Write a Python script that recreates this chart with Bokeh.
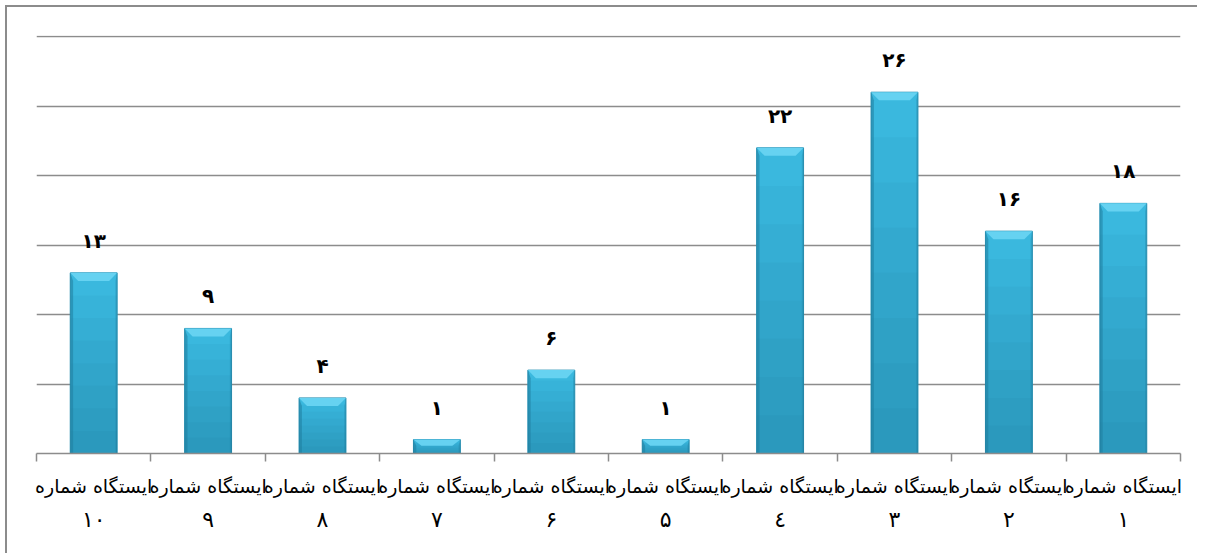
from bokeh.plotting import figure
from bokeh.models import Range1d, LinearAxis, FixedTicker, Grid, ColumnDataSource
from bokeh.core.properties import value
from bokeh.embed import file_html
from bokeh.resources import INLINE

# ---- data ----
station_word = "ایستگاه شماره"
station_numbers = ["۱", "۲", "۳", "٤", "۵", "۶", "۷", "۸", "۹", "۱۰"]
counts = [18, 16, 26, 22, 1, 6, 1, 4, 9, 13]
count_labels = ["۱۸", "۱۶", "۲۶", "۲۲", "۱", "۶", "۱", "۴", "۹", "۱۳"]
grid_ticks = [5, 10, 15, 20, 25, 30]
y_max = 30

# ---- styling constants ----
FONT = "DejaVu Sans"
GRAY = "#8c8c8c"
BAR_W = 0.41
BEVEL_X = 0.07
BEVEL_Y = 0.58

n = len(counts)
xs = [i + 0.5 for i in range(n)]
edges = list(range(n + 1))

p = figure(width=1192, height=548,
           x_range=Range1d(n, 0), y_range=Range1d(0, y_max + 0.08),
           x_axis_type=None, y_axis_type=None,
           toolbar_location=None, output_backend="svg",
           min_border_left=29, min_border_right=19,
           min_border_top=28, min_border_bottom=102,
           outline_line_color=None)
p.styles = {"border-left": "2px solid #8c8c8c", "border-top": "2px solid #8c8c8c",
            "margin-left": "5px", "margin-top": "5px"}

p.add_layout(Grid(dimension=1, ticker=FixedTicker(ticks=grid_ticks),
                  grid_line_color=GRAY, grid_line_width=1.5))

ax1 = LinearAxis(ticker=FixedTicker(ticks=xs, minor_ticks=edges),
                 major_label_overrides={x: station_word for x in xs},
                 axis_line_color=GRAY, axis_line_width=1.5,
                 major_tick_line_color=None, major_tick_out=0, major_tick_in=0,
                 minor_tick_line_color=GRAY, minor_tick_line_width=1.5,
                 minor_tick_out=8, minor_tick_in=0,
                 major_label_text_font=FONT, major_label_text_font_size="19px",
                 major_label_text_color="black", major_label_standoff=13)
ax2 = LinearAxis(ticker=FixedTicker(ticks=xs, minor_ticks=[]),
                 major_label_overrides={x: s for x, s in zip(xs, station_numbers)},
                 axis_line_color=None,
                 major_tick_line_color=None, major_tick_out=0, major_tick_in=0,
                 minor_tick_line_color=None, minor_tick_out=0, minor_tick_in=0,
                 major_label_text_font=FONT, major_label_text_font_size="22px",
                 major_label_text_color="black", major_label_standoff=7)
p.add_layout(ax1, "below")
p.add_layout(ax2, "below")

src = ColumnDataSource(dict(x=xs, top=counts, label=count_labels))

# main bar body
p.vbar(x="x", top="top", bottom=0, width=BAR_W, source=src,
       fill_color="#3ab8de", line_color="#2a92b4", line_width=1)
# darkening toward bottom (stepped gradient)
for k in range(1, 8):
    frac = k / 8
    p.vbar(x=xs, top=[c * (1 - frac) for c in counts], bottom=0, width=BAR_W - 0.004,
           fill_color="#0b3f55", fill_alpha=0.035, line_color=None)

rs_x, rs_y = [], []
ls_x, ls_y = [], []
tb_x, tb_y = [], []
for x, c in zip(xs, counts):
    L, R = x - BAR_W / 2, x + BAR_W / 2
    by = min(BEVEL_Y, c * 0.45)
    rs_x.append([R, R, R - 0.025, R - 0.025])
    rs_y.append([c, 0, 0, c - by])
    ls_x.append([L, L, L + 0.015, L + 0.015])
    ls_y.append([c, 0, 0, c - by])
    tb_x.append([L, R, R - BEVEL_X, L + BEVEL_X])
    tb_y.append([c, c, c - by, c - by])
p.patches(rs_x, rs_y, fill_color="#1f7d9e", fill_alpha=0.55, line_color=None)
p.patches(ls_x, ls_y, fill_color="#1f7d9e", fill_alpha=0.35, line_color=None)
p.patches(tb_x, tb_y, fill_color="#66d2f1", line_color=None)

p.text(x="x", y="top", text="label", source=src,
       text_align="center", text_baseline="bottom", y_offset=-20,
       text_font=value(FONT), text_font_size="20px", text_font_style="bold",
       text_color="black")

open("out.html", "w").write(file_html(p, INLINE))
